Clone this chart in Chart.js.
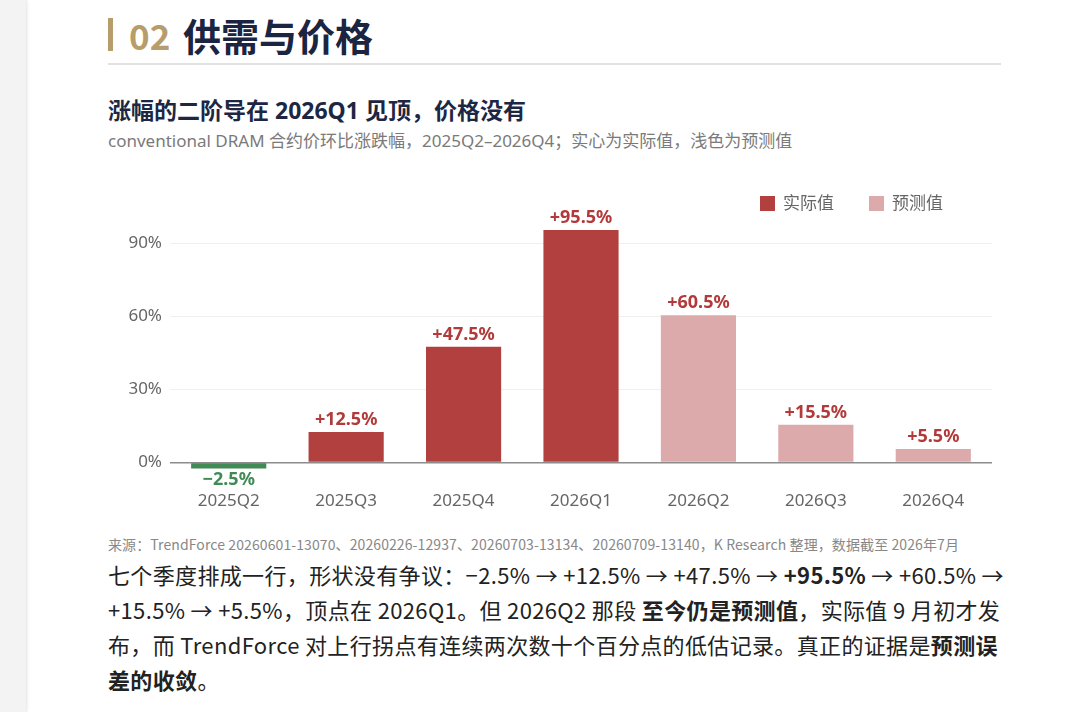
<!DOCTYPE html>
<html>
<head>
<meta charset="utf-8">
<script src="https://cdn.jsdelivr.net/npm/chart.js"></script>
<style>
  html, body { margin: 0; padding: 0; }
  body {
    width: 1080px; height: 712px; overflow: hidden; position: relative;
    background: #fff;
    font-family: "Noto Sans CJK SC", "Noto Sans", sans-serif;
  }
  .side { position: absolute; left: 0; top: 0; width: 26px; height: 712px; background: #f3f3f3; box-shadow: 1px 0 3px rgba(0,0,0,0.12); }
  .bar { position: absolute; left: 108px; top: 18px; width: 5px; height: 33px; background: #b89d6c; }
  .num { position: absolute; left: 129px; top: 10px; font-size: 35px; font-weight: 700; color: #b89d6c; line-height: 50px; }
  .title { position: absolute; left: 183px; top: 9px; font-size: 38px; font-weight: 700; color: #1b2440; line-height: 52px; }
  .rule { position: absolute; left: 108px; top: 63px; width: 893px; height: 2px; background: #e2e2e2; }
  .sub { position: absolute; left: 108px; top: 94px; font-size: 23px; font-weight: 700; color: #1d2744; line-height: 32px; white-space: nowrap;
         font-family: "Noto Sans", "Noto Sans CJK SC", sans-serif; }
  .desc { position: absolute; left: 108px; top: 129px; font-size: 17px; color: #7a7a7a; line-height: 24px; white-space: nowrap;
          font-family: "Noto Sans", "Noto Sans CJK SC", sans-serif; }
  .legend { position: absolute; top: 190px; height: 24px; font-size: 17px; color: #666; line-height: 24px; white-space: nowrap; }
  .legend i { display: inline-block; width: 15px; height: 15px; vertical-align: -2px; margin-right: 8px; }
  .chart { position: absolute; left: 120px; top: 190px; width: 880px; height: 329px; }
  .src { position: absolute; left: 108px; top: 534px; font-size: 14px; color: #888; line-height: 20px; white-space: nowrap; letter-spacing: 0.1px; }
  .body { position: absolute; left: 108px; top: 557px; font-size: 22px; color: #222; line-height: 35px; letter-spacing: 0.35px; }
  .body div { white-space: nowrap; }
  .body b { font-weight: 700; }
</style>
</head>
<body>
<div class="side"></div>
<div class="bar"></div>
<div class="num">02</div>
<div class="title">供需与价格</div>
<div class="rule"></div>
<div class="sub">涨幅的二阶导在 2026Q1 见顶，价格没有</div>
<div class="desc">conventional DRAM 合约价环比涨跌幅，2025Q2–2026Q4；实心为实际值，浅色为预测值</div>
<div class="chart"><canvas id="c"></canvas></div>
<div class="legend" id="legend"></div>
<div class="src">来源：TrendForce 20260601-13070、20260226-12937、20260703-13134、20260709-13140，K Research 整理，数据截至 2026年7月</div>
<div class="body">
  <div>七个季度排成一行，形状没有争议：−2.5% → +12.5% → +47.5% → <b>+95.5%</b> → +60.5% →</div>
  <div>+15.5% → +5.5%，顶点在 2026Q1。但 2026Q2 那段 <b>至今仍是预测值</b>，实际值 9 月初才发</div>
  <div>布，而 TrendForce 对上行拐点有连续两次数十个百分点的低估记录。真正的证据是<b>预测误</b></div>
  <div><b>差的收敛</b>。</div>
</div>
<script>
const quarters = ['2025Q2', '2025Q3', '2025Q4', '2026Q1', '2026Q2', '2026Q3', '2026Q4'];
const actualValues = [-2.5, 12.5, 47.5, 95.5, null, null, null];
const forecastValues = [null, null, null, null, 60.5, 15.5, 5.5];
const yTicks = [0, 30, 60, 90];
const seriesNames = ['实际值', '预测值'];

const RED = '#b2403e';
const PINK = '#dcaaaa';
const GREEN = '#408a56';
const LABEL_RED = '#b33a3a';
const FONT = '"Noto Sans", "Noto Sans CJK SC", sans-serif';

function fmt(v) {
    return (v < 0 ? '\u2212' + Math.abs(v).toFixed(1) : '+' + v.toFixed(1)) + '%';
}

// value labels above / below bars
const barLabels = {
    id: 'barLabels',
    afterDatasetsDraw(chart) {
        const ctx = chart.ctx;
        ctx.save();
        ctx.font = '700 18px ' + FONT;
        ctx.textAlign = 'center';
        chart.data.datasets.forEach((ds, i) => {
            chart.getDatasetMeta(i).data.forEach((el, j) => {
                const v = ds.data[j];
                if (v === null || v === undefined) return;
                if (v < 0) {
                    ctx.fillStyle = GREEN;
                    ctx.textBaseline = 'top';
                    ctx.fillText(fmt(v), el.x, el.y + 2);
                } else {
                    ctx.fillStyle = LABEL_RED;
                    ctx.textBaseline = 'bottom';
                    ctx.fillText(fmt(v), el.x, el.y - 3);
                }
            });
        });
        ctx.restore();
    }
};

const chart = new Chart(document.getElementById('c'), {
    type: 'bar',
    data: {
        labels: quarters,
        datasets: [{
            label: seriesNames[0],
            data: actualValues,
            backgroundColor: actualValues.map(v => v < 0 ? GREEN : RED),
            grouped: false,
            barPercentage: 0.64,
            categoryPercentage: 1
        }, {
            label: seriesNames[1],
            data: forecastValues,
            backgroundColor: PINK,
            grouped: false,
            barPercentage: 0.64,
            categoryPercentage: 1
        }]
    },
    options: {
        responsive: true,
        maintainAspectRatio: false,
        animation: false,
        layout: { padding: { left: 0, right: 8, top: 29, bottom: 0 } },
        plugins: {
            tooltip: { enabled: false },
            legend: { display: false }
        },
        scales: {
            x: {
                grid: { display: false },
                border: { display: false },
                ticks: { color: '#666', font: { family: FONT, size: 17 }, padding: 8 }
            },
            y: {
                min: -5,
                max: 100,
                afterBuildTicks: axis => { axis.ticks = yTicks.map(v => ({ value: v })); },
                afterFit: axis => { axis.width = 50; },
                grid: {
                    drawTicks: false,
                    color: c => c.tick && c.tick.value === 0 ? '#8c8c8c' : '#f0f0f0',
                    lineWidth: c => c.tick && c.tick.value === 0 ? 1.5 : 1
                },
                border: { display: false },
                ticks: {
                    color: '#666',
                    padding: 8,
                    font: { family: FONT, size: 17 },
                    callback: v => v + '%'
                }
            }
        }
    },
    plugins: [barLabels]
});

// simple html legend, right side above plot
const legendColors = [RED, PINK];
const legendEl = document.getElementById('legend');
legendEl.style.left = '760px';
legendEl.innerHTML = seriesNames.map((n, i) =>
    `<span style="margin-right:${i === 0 ? 35 : 0}px"><i style="background:${legendColors[i]}"></i>${n}</span>`
).join('');
</script>
</body>
</html>
